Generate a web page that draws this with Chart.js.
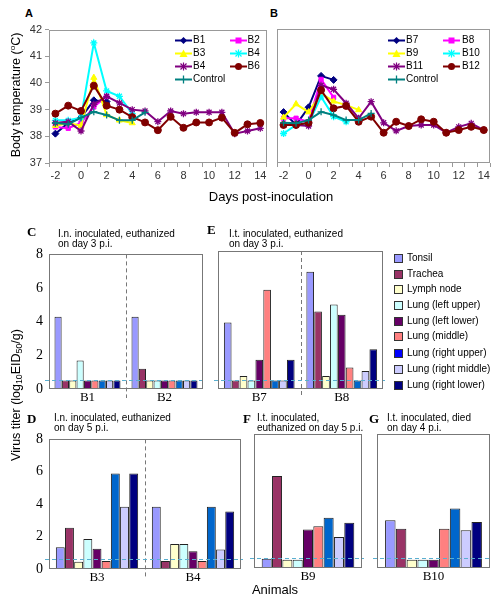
<!DOCTYPE html>
<html><head><meta charset="utf-8">
<script src="https://cdn.jsdelivr.net/npm/chart.js@4.4.1/dist/chart.umd.min.js"></script>
<style>
body{margin:0;background:#fff;}
#wrap{position:relative;width:500px;height:600px;overflow:hidden;font-family:"Liberation Sans",Arial,sans-serif;color:#000;}
canvas{position:absolute;}
.t{position:absolute;white-space:nowrap;line-height:1;transform:translateY(-50%);}
.rot{position:absolute;white-space:nowrap;line-height:1;transform:translate(-50%,-50%) rotate(-90deg);}
.lt{position:absolute;white-space:nowrap;font-size:10px;line-height:9.5px;}
.pl{position:absolute;font-family:"Liberation Serif","Times New Roman",serif;font-weight:bold;font-size:13px;line-height:1;transform:translateY(-50%);}
sub{font-size:70%;vertical-align:-0.3em;line-height:0;}
sup{font-size:65%;vertical-align:0.55em;line-height:0;}
.sw{position:absolute;width:7px;height:7px;border:1px solid #333;}
</style></head><body><div id="wrap">
<canvas id="cA" width="272" height="170" style="left:0;top:20px"></canvas>
<canvas id="cB" width="228" height="170" style="left:272px;top:20px"></canvas>
<canvas id="cC" width="210" height="165" style="left:0;top:240px"></canvas>
<canvas id="cE" width="176" height="165" style="left:212px;top:240px"></canvas>
<canvas id="cD" width="248" height="160" style="left:0;top:425px"></canvas>
<canvas id="cF" width="120" height="160" style="left:248px;top:425px"></canvas>
<canvas id="cG" width="129" height="160" style="left:371px;top:425px"></canvas>

<div class="t" style="left:25px;top:13px;font-weight:bold;font-size:11px">A</div>
<div class="t" style="left:270px;top:13px;font-weight:bold;font-size:11px">B</div>
<div class="rot" style="left:16px;top:95px;font-size:12.5px">Body temperature (<sup>o</sup>C)</div>
<div class="t" style="left:271px;top:196px;font-size:13px;transform:translate(-50%,-50%)">Days post-inoculation</div>

<div class="pl" style="left:27px;top:231px">C</div>
<div class="lt" style="left:58px;top:229px">I.n. inoculated, euthanized<br>on day 3 p.i.</div>
<div class="pl" style="left:207px;top:229px">E</div>
<div class="lt" style="left:229px;top:229px">I.t. inoculated, euthanized<br>on day 3 p.i.</div>
<div class="pl" style="left:27px;top:418px">D</div>
<div class="lt" style="left:54px;top:413px">I.n. inoculated, euthanized<br>on day 5 p.i.</div>
<div class="pl" style="left:243px;top:418px">F</div>
<div class="lt" style="left:257px;top:413px">I.t. inoculated,<br>euthanized on day 5 p.i.</div>
<div class="pl" style="left:369px;top:418px">G</div>
<div class="lt" style="left:387px;top:413px">I.t. inoculated, died<br>on day 4 p.i.</div>

<div class="rot" style="left:16px;top:395px;font-size:12.5px">Virus titer (log<sub>10</sub>EID<sub>50</sub>/g)</div>
<div class="t" style="left:275px;top:589px;font-size:13px;transform:translate(-50%,-50%)">Animals</div>
</div>
<script>
// ---------- body temperature data ----------
const dayLabels = ['-2','-1','0','1','2','3','4','5','6','7','8','9','10','11','12','13','14'];
const dayTicksShown = ['-2','0','2','4','6','8','10','12','14'];
const N = null;
const tempB1  = [38.1, 38.5, 38.7, 39.35, 39.3, N,N,N,N,N,N,N,N,N,N,N,N];
const tempB2  = [38.35, 38.3, 38.5, 39.1, 39.5, N,N,N,N,N,N,N,N,N,N,N,N];
const tempB3  = [38.4, 38.5, 38.4, 40.2, 38.8, 38.6, 38.5, N,N,N,N,N,N,N,N,N,N];
const tempB4c = [38.6, 38.6, 38.7, 41.5, 39.7, 39.5, 38.85, N,N,N,N,N,N,N,N,N,N];
const tempB4  = [38.5, 38.55, 38.2, 39.2, 39.5, 39.25, 39.0, 38.95, 38.55, 38.95, 38.85, 38.9, 38.9, 38.9, 38.1, 38.2, 38.3];
const tempB6  = [38.85, 39.15, 38.95, 39.9, 39.15, 39.0, 38.72, 38.52, 38.23, 38.73, 38.32, 38.52, 38.52, 38.7, 38.13, 38.45, 38.5];
const tempCtrlA = [38.5, 38.45, 38.7, 38.92, 38.8, 38.6, 38.6, 38.9, N,N,N,N,N,N,N,N,N];
const namesA = ['B1','B2','B3','B4','B4','B6','Control'];

const tempB7  = [38.9, 38.42, 39.08, 40.25, 40.1, N,N,N,N,N,N,N,N,N,N,N,N];
const tempB8  = [38.67, 38.67, 38.54, 40.12, 39.45, N,N,N,N,N,N,N,N,N,N,N,N];
const tempB9  = [38.7, 39.2, 38.9, 39.6, 39.3, 39.16, 38.98, N,N,N,N,N,N,N,N,N,N];
const tempB10 = [38.1, 38.42, 38.48, 39.47, 38.73, 38.54, N,N,N,N,N,N,N,N,N,N,N];
const tempB11 = [38.42, 38.42, 38.38, 39.9, 39.75, 39.23, 38.67, 39.29, 38.5, 38.2, 38.38, 38.42, 38.42, 38.13, 38.35, 38.48, 38.23];
const tempB12 = [38.42, 38.42, 38.5, 39.72, 39.04, 39.13, 38.54, 38.73, 38.13, 38.54, 38.38, 38.63, 38.54, 38.13, 38.23, 38.35, 38.23];
const tempCtrlB = [38.5, 38.48, 38.6, 38.91, 38.79, 38.6, 38.6, 38.85, N,N,N,N,N,N,N,N,N];
const namesB = ['B7','B8','B9','B10','B11','B12','Control'];

const lineColors = ['#000080','#FF00FF','#FFFF00','#00FFFF','#800080','#800000','#008080'];
const lineStyles = ['rectRot','rect','triangle','star','star','circle','cross'];
const lineRadius = [3.5, 3, 3.5, 3.5, 3.5, 3.5, 3.5];

// ---------- virus titer data ----------
const tissues = ['Tonsil','Trachea','Lymph node','Lung (left upper)','Lung (left lower)','Lung (middle)','Lung (right upper)','Lung (right middle)','Lung (right lower)'];
const tissueColors = ['#9999FF','#993366','#FFFFCC','#CCFFFF','#660066','#FF8080','#0066CC','#CCCCFF','#000080'];
const legendColors = ['#9999FF','#993366','#FFFFCC','#CCFFFF','#660066','#FF8080','#0000FF','#CCCCFF','#000080'];
const titerB1  = [4.3, 0.5, 0.5, 1.7, 0.5, 0.5, 0.5, 0.5, 0.5];
const titerB2  = [4.3, 1.2, 0.5, 0.5, 0.5, 0.5, 0.5, 0.5, 0.5];
const titerB7  = [3.85, 0.5, 0.75, 0.5, 1.7, 5.75, 0.5, 0.5, 1.7];
const titerB8  = [6.8, 4.5, 0.75, 4.9, 4.3, 1.25, 0.5, 1.05, 2.3];
const titerB3  = [1.35, 2.55, 0.45, 1.85, 1.25, 0.5, 5.9, 3.85, 5.9];
const titerB4  = [3.85, 0.5, 1.55, 1.55, 1.1, 0.5, 3.85, 1.2, 3.55];
const titerB9  = [0.55, 5.5, 0.5, 0.5, 2.3, 2.5, 3.0, 1.85, 2.7];
const titerB10 = [2.85, 2.35, 0.5, 0.5, 0.5, 2.35, 3.55, 2.25, 2.75];
const limitTop = 0.55, limitBottom = 0.62;
const titerTicks = [0, 2, 4, 6, 8];

const sansFont = "'Liberation Sans', Arial, sans-serif";
const serifFont = "'Liberation Serif', 'Times New Roman', serif";

function boxPlugin(color){
  return {id:'box', afterDraw(chart){
    const a = chart.chartArea, c = chart.ctx;
    c.save(); c.setLineDash([]); c.strokeStyle = color; c.lineWidth = 1;
    c.strokeRect(Math.round(a.left)+0.5, Math.round(a.top)+0.5, Math.round(a.right-a.left)-1, Math.round(a.bottom-a.top)-1);
    c.restore();
  }};
}

function makeLine(id, series, names, showY, yW, pad){
  return new Chart(document.getElementById(id), {
    type:'line',
    data:{labels: dayLabels, datasets: series.map((s,i)=>({
      label: names[i], data: s,
      borderColor: lineColors[i], backgroundColor: lineColors[i],
      borderWidth: 2, pointStyle: lineStyles[i], pointRadius: lineRadius[i],
      pointBorderWidth: (lineStyles[i]==='star'||lineStyles[i]==='cross') ? 1.3 : 1,
      pointBackgroundColor: lineColors[i], pointBorderColor: lineColors[i],
      tension: 0, spanGaps: false, order: names.length - i
    }))},
    options:{
      responsive:false, animation:false, events:[],
      layout:{padding:pad},
      plugins:{legend:{display:false}, tooltip:{enabled:false}},
      scales:{
        x:{type:'category', offset:true,
           grid:{offset:true, drawOnChartArea:false, drawTicks:true, tickLength:4, color:'#999'},
           border:{display:false},
           ticks:{autoSkip:false, maxRotation:0, padding:2, color:'#333', font:{family:sansFont, size:11},
             callback(v){ const l = this.getLabelForValue(v); return dayTicksShown.includes(l) ? l : ''; }},
           afterFit(s){ s.height = 27; }},
        y:{min:37, max:42,
           ticks:{display:showY, stepSize:1, padding:3, color:'#333', font:{family:sansFont, size:11}},
           grid:{drawOnChartArea:false, drawTicks:showY, tickLength:4, color:'#999'},
           border:{display:false},
           afterFit(s){ s.width = yW; }}
      }
    },
    plugins:[boxPlugin('#999')]
  });
}

function barDeco(limit){
  return {id:'deco', afterDatasetsDraw(chart){
    const {ctx, chartArea:a, scales:{x, y}} = chart;
    ctx.save(); ctx.lineWidth = 1; ctx.setLineDash([4,3]);
    ctx.strokeStyle = '#777';
    for(let i=1;i<chart.data.labels.length;i++){
      const px = Math.round((x.getPixelForValue(i-1)+x.getPixelForValue(i))/2)+0.5;
      ctx.beginPath(); ctx.moveTo(px, a.top); ctx.lineTo(px, a.bottom+9); ctx.stroke();
    }
    ctx.strokeStyle = '#5AAFD0';
    const py = Math.round(y.getPixelForValue(limit))+0.5;
    ctx.beginPath(); ctx.moveTo(a.left-4, py); ctx.lineTo(a.right+2, py); ctx.stroke();
    ctx.restore();
  }};
}

function makeBar(id, animals, values, showY, yW, pad, xH, limit){
  return new Chart(document.getElementById(id), {
    type:'bar',
    data:{labels: animals, datasets: tissues.map((t,i)=>({
      label: t, data: values.map(v=>v[i]),
      backgroundColor: tissueColors[i], borderColor:'#222', borderWidth:1,
      categoryPercentage:0.86, barPercentage:0.97
    }))},
    options:{
      responsive:false, animation:false, events:[],
      layout:{padding:pad},
      plugins:{legend:{display:false}, tooltip:{enabled:false}},
      scales:{
        x:{grid:{display:false, drawTicks:false}, border:{display:false},
           ticks:{padding:1, color:'#000', font:{family:serifFont, size:13}},
           afterFit(s){ s.height = xH; }},
        y:{min:0, max:8,
           afterBuildTicks(s){ s.ticks = titerTicks.map(v=>({value:v})); },
           ticks:{display:showY, padding:6, color:'#000', font:{family:serifFont, size:14}},
           grid:{display:false, drawTicks:false}, border:{display:false},
           afterFit(s){ s.width = yW; }}
      }
    },
    plugins:[barDeco(limit), boxPlugin('#777')]
  });
}

makeLine('cA', [tempB1,tempB2,tempB3,tempB4c,tempB4,tempB6,tempCtrlA], namesA, true, 49, {top:9,right:4,left:0,bottom:0});
makeLine('cB', [tempB7,tempB8,tempB9,tempB10,tempB11,tempB12,tempCtrlB], namesB, false, 3, {top:9,right:10,left:0,bottom:0});

makeBar('cC', ['B1','B2'], [titerB1,titerB2], true, 49, {top:11,right:7,left:0,bottom:0}, 16, limitTop);
makeBar('cE', ['B7','B8'], [titerB7,titerB8], false, 6, {top:11,right:5,left:0,bottom:0}, 16, limitTop);
makeBar('cD', ['B3','B4'], [titerB3,titerB4], true, 49, {top:12,right:7,left:0,bottom:0}, 16, limitBottom);
makeBar('cF', ['B9'], [titerB9], false, 6, {top:9,right:6,left:0,bottom:0}, 17, limitBottom);
makeBar('cG', ['B10'], [titerB10], false, 6, {top:9,right:10,left:0,bottom:0}, 17, limitBottom);

// ---------- legends (HTML text) ----------
const wrap = document.getElementById('wrap');
function markerSVG(style, color){
  let m = '';
  if(style==='rectRot') m = `<polygon points="8.5,1 12,4.5 8.5,8 5,4.5" fill="${color}"/>`;
  else if(style==='rect') m = `<rect x="5.5" y="1.5" width="6" height="6" fill="${color}"/>`;
  else if(style==='triangle') m = `<polygon points="8.5,0.5 12.5,8 4.5,8" fill="${color}"/>`;
  else if(style==='star') m = `<g stroke="${color}" stroke-width="1.2"><line x1="5.5" y1="1.5" x2="11.5" y2="7.5"/><line x1="11.5" y1="1.5" x2="5.5" y2="7.5"/><line x1="8.5" y1="0.5" x2="8.5" y2="8.5"/></g>`;
  else if(style==='circle') m = `<circle cx="8.5" cy="4.5" r="3.5" fill="${color}"/>`;
  else if(style==='cross') m = `<line x1="8.5" y1="0.5" x2="8.5" y2="8.5" stroke="${color}" stroke-width="1.3"/>`;
  return `<svg width="17" height="9" style="position:absolute;left:0;top:0"><line x1="0" y1="4.5" x2="17" y2="4.5" stroke="${color}" stroke-width="2"/>${m}</svg>`;
}
function lineLegend(names, colX, textX){
  const rows = [40, 53, 66, 79];
  names.forEach((n,i)=>{
    const r = Math.floor(i/2), c = i%2;
    const ic = document.createElement('div');
    ic.style.cssText = `position:absolute;left:${colX[c]}px;top:${rows[r]-4.5}px;width:17px;height:9px`;
    ic.innerHTML = markerSVG(lineStyles[i], lineColors[i]);
    wrap.appendChild(ic);
    const t = document.createElement('div');
    t.className = 't'; t.style.left = textX[c]+'px'; t.style.top = rows[r]+'px'; t.style.fontSize = '10px';
    t.textContent = n; wrap.appendChild(t);
  });
}
lineLegend(namesA, [175, 230], [193, 247.5]);
lineLegend(namesB, [388, 443], [406, 462]);

const barLegRows = [258, 274, 289, 305, 321, 336, 353, 369, 385];
tissues.forEach((t,i)=>{
  const sw = document.createElement('div');
  sw.className = 'sw'; sw.style.left = '394px'; sw.style.top = (barLegRows[i]-4)+'px'; sw.style.background = legendColors[i];
  wrap.appendChild(sw);
  const d = document.createElement('div');
  d.className = 't'; d.style.left = '407px'; d.style.top = barLegRows[i]+'px'; d.style.fontSize = '10px';
  d.textContent = t; wrap.appendChild(d);
});
</script>
</body></html>
